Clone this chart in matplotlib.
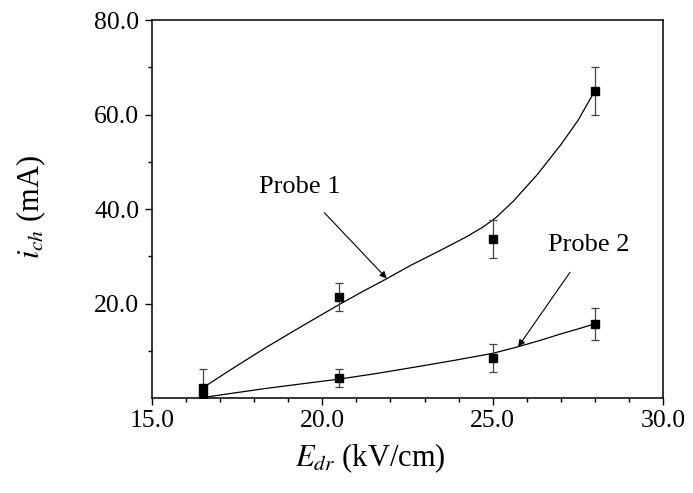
import matplotlib
matplotlib.use("Agg")
import matplotlib.pyplot as plt
from matplotlib.ticker import FixedLocator, FormatStrFormatter

plt.rcParams.update({
    'font.family': ['Liberation Serif', 'DejaVu Serif'],
    'mathtext.fontset': 'stix',
    'font.size': 16,
})

# measured points (E_dr in kV/cm, i_ch in mA)
e_dr = [16.5, 20.5, 25.0, 28.0]
probe1 = [2.2, 21.4, 33.6, 65.0]
probe1_err = [3.9, 3.0, 4.0, 5.0]
probe2 = [0.4, 4.2, 8.5, 15.7]
probe2_err = [0.3, 1.95, 3.0, 3.45]

# smoothed guide curves
curve1_x = [16.5, 17.4, 18.37, 19.4, 20.5, 21.2, 21.88, 22.6, 23.4, 23.8, 24.2,
            24.7, 25.1, 25.6, 26.3, 27.0, 27.5, 28.0]
curve1_y = [2.2, 6.4, 10.8, 15.2, 19.8, 22.6, 25.2, 28.1, 31.0, 32.5, 34.0,
            36.1, 38.2, 41.6, 47.2, 53.6, 58.7, 65.0]
curve2_x = [16.5, 17.4, 18.37, 19.4, 20.5, 21.6, 22.77, 23.9, 25.0, 25.75, 26.4,
            26.97, 27.5, 28.0]
curve2_y = [0.1, 1.05, 2.05, 3.0, 4.0, 5.2, 6.6, 8.0, 9.45, 10.85, 12.2,
            13.5, 14.6, 15.7]

fig = plt.figure(figsize=(6.93, 4.93), dpi=100)
ax = fig.add_axes([0.2193, 0.1927, 0.7374, 0.7667])

ax.plot(curve1_x, curve1_y, color='black', lw=0.9)
ax.plot(curve2_x, curve2_y, color='black', lw=0.9)

for y, err in [(probe1, probe1_err), (probe2, probe2_err)]:
    ax.errorbar(e_dr, y, yerr=err, fmt='s', color='black', ms=5.5,
                ecolor='#444444', elinewidth=0.9, capsize=3, capthick=0.9)

ax.annotate('Probe 1', xy=(21.89, 25.3), xytext=(19.34, 44.7),
            fontsize=19, ha='center', va='center',
            arrowprops=dict(arrowstyle='-|>', color='black', lw=0.8,
                            mutation_scale=10, shrinkA=12, shrinkB=0))
ax.annotate('Probe 2', xy=(25.75, 10.86), xytext=(27.83, 32.4),
            fontsize=19, ha='center', va='center',
            arrowprops=dict(arrowstyle='-|>', color='black', lw=0.8,
                            mutation_scale=10, shrinkA=12, shrinkB=0))

ax.set_xlim(15, 30)
ax.set_ylim(0, 80)
ax.xaxis.set_major_locator(FixedLocator([15, 20, 25, 30]))
ax.xaxis.set_minor_locator(FixedLocator([16, 17, 18, 19, 21, 22, 23, 24, 26, 27, 28, 29]))
ax.yaxis.set_major_locator(FixedLocator([20, 40, 60, 80]))
ax.yaxis.set_minor_locator(FixedLocator([10, 30, 50, 70]))
ax.xaxis.set_major_formatter(FormatStrFormatter('%.1f'))
ax.yaxis.set_major_formatter(FormatStrFormatter('%.1f'))

ax.tick_params(which='both', direction='out', top=False, right=False,
               width=1.0, labelsize=18.5)
ax.tick_params(which='major', length=5, pad=4)
ax.tick_params(which='minor', length=3)
for s in ax.spines.values():
    s.set_linewidth(1.1)

ax.set_xlabel(r'$E_{dr}$ (kV/cm)', fontsize=22)
ax.set_ylabel(r'$i_{ch}$ (mA)', fontsize=22)
ax.xaxis.set_label_coords(0.4266, -0.115)
ax.yaxis.set_label_coords(-0.2035, 0.505)

plt.savefig('out.png', dpi=100)
